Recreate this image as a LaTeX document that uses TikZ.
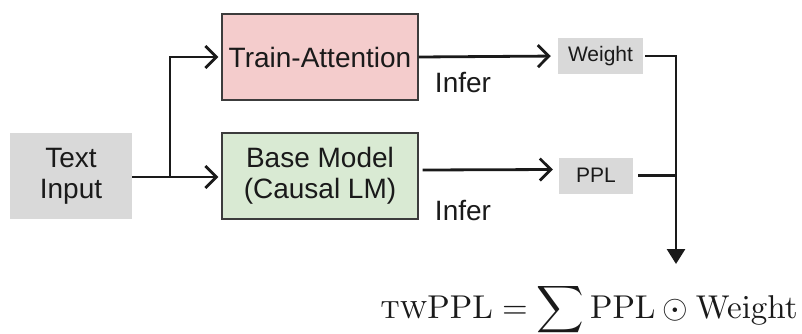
\RequirePackage{fix-cm}
\documentclass[tikz,border=0pt]{standalone}
\usepackage{amsmath}
\usepackage{graphicx}
\usepackage[no-math]{fontspec}
\newfontfamily\labelfont{Liberation Sans}
\usetikzlibrary{arrows.meta}

\definecolor{boxgray}{HTML}{D9D9D9}
\definecolor{attnred}{HTML}{F4CCCC}
\definecolor{basegreen}{HTML}{D9EAD3}
\definecolor{edgegray}{HTML}{3C3C3C}
\definecolor{inkblack}{HTML}{1A1A1A}

\tikzset{
  every node/.style={text=inkblack},
  bigtext/.style={font=\labelfont\fontsize{28}{31}\selectfont, align=center, inner sep=0pt},
  inbox/.style={bigtext, fill=boxgray, minimum width=122pt, minimum height=86pt},
  modelbox/.style={bigtext, draw=edgegray, line width=1.4pt, minimum width=196pt, minimum height=86pt},
  valbox/.style={font=\labelfont\fontsize{21}{24}\selectfont, fill=boxgray, inner sep=0pt, minimum height=36pt},
  flow/.style={line width=2.8pt, draw=inkblack, -{Straight Barb[length=11pt, width=22pt, line width=2.8pt]}},
  joinline/.style={line width=2.8pt, draw=inkblack},
  sinkarrow/.style={line width=2.8pt, draw=inkblack, -{Triangle[length=15pt, width=18pt]}},
}

\begin{document}
\begin{tikzpicture}[x=1pt, y=-1pt]
  \useasboundingbox (0,0) rectangle (802,333);

  % input and the two models
  \node[inbox] (tin) at (71,176) {Text\\Input};
  \node[modelbox, fill=attnred] (ta) at (320,57) {Train-Attention};
  \node[modelbox, fill=basegreen] (bm) at (320,176) {Base Model\\(Causal LM)};

  % outputs of inference
  \node[valbox, minimum width=85pt] (wt) at (600.5,56) {Weight};
  \node[valbox, minimum width=74pt] (ppl) at (596,175.5) {PPL};

  \node[bigtext] (inf1) at (463,83) {Infer};
  \node[bigtext] (inf2) at (463,210) {Infer};

  % final weighted perplexity
  \node[anchor=base, inner sep=0pt] (twppl) at (589,318)
    {\scalebox{3.3}{$\textsc{tw}\mathrm{PPL} = \displaystyle\sum \mathrm{PPL} \odot \mathrm{Weight}$}};

  % input fan-out
  \coordinate (split) at (170,177);
  \draw[flow, shorten >=3pt] (tin.east |- split) -- (bm.west |- split);
  \draw[flow, shorten >=3pt] (split) |- (ta.west);

  % inference arrows
  \draw[flow, shorten >=7pt] (ta.east) -- (wt.west);
  \draw[flow] ([xshift=4pt, yshift=6pt]bm.east) -- ([xshift=-6pt, yshift=6pt]ppl.west);

  % merge into the formula
  \coordinate (sink) at (676,264);
  \draw[sinkarrow] ([xshift=2pt]wt.east) -| (sink);
  \draw[joinline] ([xshift=5pt]ppl.east) -- (ppl.east -| sink);
\end{tikzpicture}
\end{document}
